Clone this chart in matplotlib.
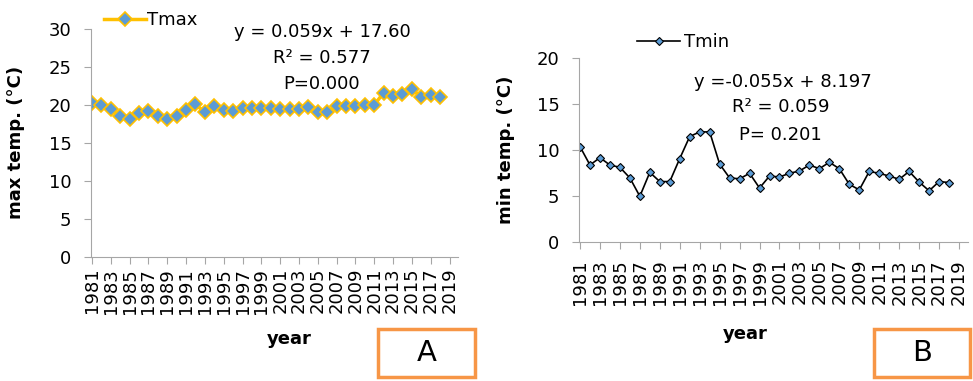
import numpy as np
import matplotlib
matplotlib.use("Agg")
import matplotlib.pyplot as plt
from matplotlib.patches import Rectangle

plt.rcParams['font.family'] = ['DejaVu Sans']

years = list(range(1981, 2020))  # category axis, 2019 has no data
tmax = [20.2, 20.0, 19.4, 18.5, 18.2, 18.9, 19.2, 18.6, 18.2, 18.6,
        19.3, 20.1, 19.0, 19.8, 19.3, 19.2, 19.6, 19.6, 19.6, 19.6,
        19.4, 19.5, 19.5, 19.7, 19.1, 19.0, 19.8, 19.8, 19.8, 20.0,
        20.0, 21.6, 21.2, 21.4, 22.1, 21.0, 21.3, 21.0]
tmin = [10.4, 8.4, 9.2, 8.4, 8.15, 7.0, 5.0, 7.6, 6.6, 6.6,
        9.1, 11.5, 12.0, 12.0, 8.5, 7.0, 6.9, 7.5, 5.9, 7.2,
        7.1, 7.5, 7.75, 8.4, 8.0, 8.7, 8.0, 6.3, 5.7, 7.7,
        7.5, 7.2, 6.85, 7.7, 6.55, 5.6, 6.6, 6.5]

W, H = 973, 381
FS = 13
fig = plt.figure(figsize=(W / 100, H / 100), dpi=100)


def px_axes(left, right, top, bottom):
    return fig.add_axes([left / W, 1 - bottom / H, (right - left) / W, (bottom - top) / H])


def fx(px):
    return px / W


def fy(py):
    return 1 - py / H


def style(ax, ymax, ylabel, xright, xpad):
    for s in ['top', 'right']:
        ax.spines[s].set_visible(False)
    for s in ['left', 'bottom']:
        ax.spines[s].set_color('#a6a6a6')
    ax.set_ylim(0, ymax)
    ax.set_yticks(np.arange(0, ymax + 1, 5))
    ax.set_xlim(-0.1, xright)
    ticks = list(range(0, len(years), 2))
    ax.set_xticks(ticks)
    ax.set_xticklabels([str(years[i]) for i in ticks], rotation=90)
    ax.tick_params(axis='both', colors='#a6a6a6', labelcolor='black', labelsize=FS, length=5)
    ax.tick_params(axis='y', pad=9)
    ax.tick_params(axis='x', pad=xpad)
    ax.set_ylabel(ylabel, fontsize=FS, fontweight='bold')


# A: Tmax
axA = px_axes(91, 458, 29, 256.7)
x = np.arange(len(tmax))
lineA, = axA.plot(x, tmax, color='#ffc000', lw=2.5, marker='D', ms=7.5,
                  mfc='#5b9bd5', mec='#ffc000', mew=1.2, label='Tmax')
style(axA, 30, 'max temp. (°C)', 38.9, 3)
axA.yaxis.set_label_coords(-0.18, 0.5)
fig.legend(handles=[lineA], loc='center left', bbox_to_anchor=(fx(104), fy(20)),
           frameon=False, fontsize=FS, handlelength=2.3, handletextpad=0.1,
           borderaxespad=0, borderpad=0)
fig.text(fx(322), fy(32), 'y = 0.059x + 17.60', ha='center', va='center', fontsize=FS)
fig.text(fx(322), fy(58), 'R² = 0.577', ha='center', va='center', fontsize=FS)
fig.text(fx(322), fy(84), 'P=0.000', ha='center', va='center', fontsize=FS)
fig.text(fx(289), fy(339), 'year', ha='center', va='center', fontsize=FS, fontweight='bold')

# B: Tmin
axB = px_axes(579, 968, 58.3, 242.3)
lineB, = axB.plot(x, tmin, color='black', lw=1.2, marker='D', ms=4.5,
                  mfc='#5b9bd5', mec='black', mew=0.8, label='Tmin')
style(axB, 20, 'min temp. (°C)', 38.9, 7)
axB.yaxis.set_label_coords(-0.165, 0.5)
fig.legend(handles=[lineB], loc='center left', bbox_to_anchor=(fx(637), fy(42)),
           frameon=False, fontsize=FS, handlelength=2.4, handletextpad=0.2,
           borderaxespad=0, borderpad=0)
fig.text(fx(783), fy(82), 'y =-0.055x + 8.197', ha='center', va='center', fontsize=FS)
fig.text(fx(781), fy(107), 'R² = 0.059', ha='center', va='center', fontsize=FS)
fig.text(fx(780), fy(135), 'P= 0.201', ha='center', va='center', fontsize=FS)
fig.text(fx(745), fy(334), 'year', ha='center', va='center', fontsize=FS, fontweight='bold')

# panel letters in orange boxes
for (l, r, t, b, letter) in [(378, 475, 329, 377, 'A'), (874, 970, 329, 377, 'B')]:
    fig.patches.append(Rectangle((fx(l), fy(b)), (r - l) / W, (b - t) / H,
                                 transform=fig.transFigure, fill=False,
                                 edgecolor='#f79646', lw=2.5))
    fig.text(fx((l + r) / 2), fy((t + b) / 2), letter, ha='center', va='center', fontsize=21)

fig.savefig('out.png', dpi=100)
